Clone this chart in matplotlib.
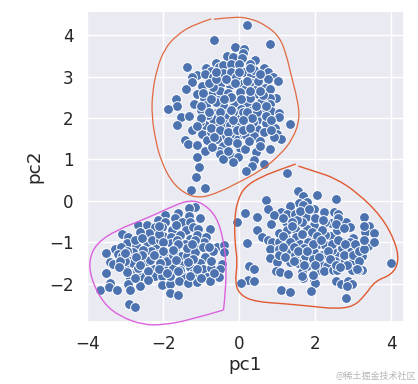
import matplotlib
matplotlib.use("Agg")
import matplotlib.pyplot as plt
from matplotlib.patches import PathPatch
from matplotlib.path import Path
import seaborn as sns

# points, one pair of lists per cluster
top_pc1 = [0.20, -0.67, 0.81, -0.11, 0.12, 0.11, -0.33, -0.15, 0.08, 0.43, -1.37, -0.87, -0.61, -0.54, -0.43, -0.21,
           0.01, 0.28, 0.66, -0.75, -1.12, -0.89, -0.42, -0.22, 0.10, 0.32, 0.39, 0.76, 0.89, 1.03, 0.76, -1.25,
           -1.25, -1.39, -0.97, -0.47, -0.23, 0.04, 0.41, 0.67, 0.82, -0.71, -0.51, -0.29, -0.05, 0.15, 0.50, -1.12,
           -0.92, -0.55, -1.67, -1.64, -1.86, -1.18, -0.14, 0.22, 0.57, 0.98, 0.81, 0.82, -0.99, -1.54, -1.33, -0.62,
           -0.35, 0.06, 0.34, 0.61, 0.84, 1.05, -0.07, -0.31, 0.25, 0.46, 0.71, 1.04, 1.33, -1.64, -1.23, -0.97,
           -0.82, -0.62, -0.38, -0.61, -0.23, 0.94, 0.46, 0.65, 0.04, -0.41, 1.01, 1.10, -0.16, 0.19, 0.39, 0.91,
           -1.42, -1.35, -1.10, -0.84, -0.59, -0.11, 0.56, -0.42, -0.90, -0.54, 0.02, 0.15, 0.44, 0.56, 0.82, -0.24,
           -0.51, -1.11, -0.02, -0.42, -0.17, 0.39, 0.34, 0.65, -1.05, 0.18, -1.14, -1.26, -0.89, -0.68, -0.51, -0.86,
           -0.25, 0.28, 0.11, -0.16, 0.46, -0.68, -0.42, 0.02, 0.28, -0.33, -0.07, -0.68, -0.60, -0.82, 0.19, -0.07,
           0.37, 0.63, -0.25, -0.73, -0.90, -1.04,
           -0.95, -0.80, -0.60, -0.35, -0.10, 0.20, 0.50, 0.55, 0.30, 0.05, -0.20, -0.40, -0.75, -1.00, -0.80, -0.50,
           -0.20, 0.20, 0.45, 0.70, 0.70, 0.35, 0.10, -0.15, -0.50, -0.75, -0.50, -0.30, -0.05, 0.10, 0.30, -0.65,
           -0.30, -0.05, 0.25, -0.70, -0.30, 0.30, 0.00, -0.60, 0.55, -1.00, -1.10, 0.85, 0.85]
top_pc2 = [4.24, 3.88, 3.78, 3.72, 3.67, 3.57, 3.49, 3.47, 3.45, 3.41, 3.23, 3.20, 3.33, 3.24, 3.27, 3.29,
           3.29, 3.31, 3.21, 3.13, 3.04, 3.06, 3.08, 3.12, 3.12, 3.04, 3.15, 3.11, 3.00, 2.89, 2.95, 2.99,
           2.87, 2.71, 2.77, 2.85, 2.79, 2.81, 2.76, 2.72, 2.69, 2.59, 2.66, 2.61, 2.49, 2.69, 2.58, 2.57,
           2.48, 2.43, 2.45, 2.30, 2.21, 2.33, 2.35, 2.33, 2.38, 2.47, 2.47, 2.33, 2.19, 2.03, 2.04, 2.12,
           2.23, 2.22, 2.20, 2.19, 2.16, 2.12, 2.00, 2.02, 1.98, 1.94, 1.89, 2.02, 1.86, 1.83, 1.70, 1.61,
           1.82, 1.82, 1.85, 1.68, 1.84, 1.77, 1.74, 1.66, 1.62, 1.58, 1.61, 1.49, 1.68, 1.58, 1.57, 1.54,
           1.47, 1.38, 1.35, 1.47, 1.49, 1.52, 1.45, 1.33, 1.20, 1.20, 1.27, 1.26, 1.18, 1.32, 1.25, 1.10,
           1.12, 1.07, 1.05, 1.00, 0.93, 0.98, 0.85, 0.89, 0.83, 0.71, 0.58, 0.27, 0.30, 2.75, 2.31, 2.31,
           2.47, 2.47, 2.14, 2.14, 2.14, 1.98, 2.31, 2.63, 2.87, 2.91, 2.99, 2.99, 2.39, 2.06, 1.82, 1.82,
           1.90, 2.55, 1.62, 1.66, 1.82, 1.90,
           2.60, 2.85, 2.95, 2.95, 2.85, 2.90, 2.90, 2.65, 2.65, 2.45, 2.50, 2.45, 2.45, 2.30, 2.15, 2.15,
           2.20, 2.15, 2.30, 2.30, 2.05, 2.00, 1.95, 1.95, 1.95, 1.75, 1.70, 1.65, 1.70, 1.70, 1.75, 1.55,
           1.45, 1.40, 1.45, 1.30, 1.20, 3.20, 3.10, 3.10, 3.05, 2.00, 1.80, 1.95, 1.70]

left_pc1 = [-1.15, -1.32, -1.60, -1.94, -1.33, -1.02, -2.14, -1.69, -1.51, -1.29, -2.67, -2.41, -1.96, -2.21, -2.04,
            -1.77, -1.39, -1.20, -1.07, -0.76, -3.07, -2.92, -2.36, -1.99, -1.80, -1.55, -1.29, -1.10, -0.86, -0.92,
            -2.96, -2.71, -2.43, -2.18, -1.80, -1.43, -1.11, -0.59, -0.39, -3.26, -3.11, -3.51, -3.18, -2.32, -1.66,
            -0.69, -0.39, -3.07, -2.89, -2.54, -2.13, -1.89, -1.53, -1.36, -0.89, -3.39, -3.31, -2.96, -2.78, -2.43,
            -1.17, -1.03, -0.46, -2.82, -2.25, -1.95, -1.75, -1.48, -1.29, -0.96, -0.75, -0.49, -3.51, -2.87, -2.58,
            -2.21, -2.02, -1.51, -0.85, -0.53, -3.39, -2.93, -2.61, -2.04, -1.83, -1.59, -1.34, -1.10, -0.77, -3.67,
            -3.41, -3.20, -2.87, -1.81, -1.62, -2.89, -2.73, -2.69, -3.00, -2.30, -2.08, -1.64, -1.90, -2.52, -1.38,
            -1.16, -1.73, -2.34, -1.55, -1.20, -2.08, -2.78, -3.13, -2.65, -1.82,
            -2.60, -2.10, -1.65, -1.15, -2.75, -2.55, -2.00, -1.60, -1.25, -0.95, -2.95, -2.55, -2.00, -1.75, -1.20,
            -0.80, -3.00, -2.70, -2.25, -1.65, -1.35, -0.75, -2.60, -2.10, -1.60, -1.10, -2.75, -2.40, -1.90, -1.30,
            -1.00, -2.40, -0.65, -2.95, -3.15, -2.10]
left_pc2 = [-0.15, -0.18, -0.30, -0.35, -0.36, -0.41, -0.46, -0.42, -0.50, -0.50, -0.59, -0.58, -0.51, -0.62, -0.63,
            -0.70, -0.69, -0.63, -0.67, -0.67, -0.80, -0.88, -0.77, -0.84, -0.86, -0.82, -0.92, -0.82, -0.86, -0.98,
            -1.02, -1.07, -1.00, -1.10, -1.02, -1.05, -1.08, -1.11, -1.06, -1.16, -1.12, -1.25, -1.28, -1.20, -1.12,
            -1.20, -1.24, -1.33, -1.33, -1.39, -1.29, -1.32, -1.32, -1.34, -1.35, -1.48, -1.53, -1.57, -1.50, -1.46,
            -1.48, -1.50, -1.52, -1.73, -1.65, -1.60, -1.62, -1.55, -1.60, -1.63, -1.62, -1.63, -1.73, -1.86, -1.81,
            -1.82, -1.82, -1.80, -1.84, -1.83, -1.98, -2.00, -2.04, -2.03, -2.00, -1.94, -1.99, -1.96, -1.93, -2.14,
            -2.08, -2.14, -2.16, -2.21, -2.26, -2.49, -2.57, -1.70, -1.46, -0.94, -0.94, -0.94, -1.46, -1.18, -1.14,
            -1.22, -1.30, -1.42, -1.66, -1.74, -1.50, -1.22, -1.46, -1.62, -1.82,
            -0.75, -0.80, -0.58, -0.95, -0.95, -0.90, -1.00, -1.05, -1.05, -1.10, -1.20, -1.30, -1.20, -1.18, -1.40,
            -1.10, -1.25, -1.35, -1.30, -1.42, -1.48, -1.45, -1.55, -1.65, -1.70, -1.65, -1.85, -1.70, -1.75, -1.80,
            -1.85, -1.90, -1.75, -1.72, -1.60, -0.60]

right_pc1 = [1.27, 1.54, 1.69, 2.06, 2.55, 0.71, 1.58, 1.78, 1.68, 1.34, 0.75, 1.97, 1.09, 2.23, 2.49, 0.16, 0.48,
             0.91, 1.27, 1.46, 1.76, 2.61, 3.30, -0.06, 0.83, 1.24, 1.98, 2.41, 2.61, 2.81, 2.92, 3.41, 0.48, 1.05,
             1.47, 1.78, 2.25, 3.31, 3.56, 0.60, 1.23, 1.49, 1.93, 2.42, 2.57, 3.01, 0.20, 0.77, 0.86, 1.04, 1.61,
             1.82, 2.08, 2.26, 2.70, 3.19, 3.40, 3.56, 0.82, 1.05, 1.32, 1.72, 1.96, 2.19, 2.59, 2.89, 3.23, 0.82,
             0.99, 1.35, 1.56, 1.80, 2.13, 2.31, 2.73, 3.01, 3.99, 0.27, 0.40, 0.96, 1.08, 1.28, 1.65, 2.03, 2.24,
             2.46, 2.70, 3.23, 1.69, 0.23, 0.38, 0.05, 1.98, 2.00, 2.55, 2.67, 2.86, 2.96, 2.84, 1.10, 1.33, 1.89,
             2.82, 1.47, 1.74, 2.44, 2.70, 2.92, 3.10, 2.26, 1.65, 1.91, 1.25, 1.04, 2.53, 2.96, 3.14, 1.52, 2.18,
             2.57,
             1.15, 1.40, 1.60, 1.85, 2.00, 2.20, 2.60, 1.40, 1.65, 2.05, 2.55, 2.75, 1.15, 1.35, 1.45, 1.95, 2.15,
             2.45, 2.60, 2.80, 3.05, 1.15, 1.55, 1.80, 2.35, 2.75, 3.00, 3.15, 1.20, 1.45, 1.95, 2.10, 2.40, 2.85,
             3.15, 3.30, 3.30, 1.70, 2.00, 2.55, 2.65, 3.10, 1.65, 1.95, 3.30]
right_pc2 = [0.67, 0.24, 0.13, 0.14, 0.04, 0.02, -0.06, -0.02, -0.11, -0.13, -0.20, -0.19, -0.26, -0.27, -0.26, -0.28,
             -0.38, -0.35, -0.32, -0.32, -0.39, -0.32, -0.39, -0.50, -0.56, -0.52, -0.58, -0.53, -0.52, -0.50, -0.63,
             -0.61, -0.71, -0.78, -0.67, -0.67, -0.50, -0.76, -0.77, -0.87, -0.90, -0.86, -0.86, -0.84, -0.70, -0.90,
             -1.02, -0.94, -1.00, -0.98, -1.03, -1.00, -1.03, -1.06, -1.00, -1.08, -1.08, -1.00, -1.17, -1.16, -1.20,
             -1.14, -1.24, -1.30, -1.26, -1.21, -1.34, -1.37, -1.47, -1.48, -1.50, -1.57, -1.51, -1.56, -1.58, -1.45,
             -1.49, -1.56, -1.64, -1.68, -1.72, -1.76, -1.71, -1.70, -1.69, -1.66, -1.46, -1.66, -1.86, -1.90, -1.93,
             -1.98, -1.90, -1.98, -1.94, -2.00, -1.94, -2.00, -2.04, -2.14, -2.20, -2.17, -2.33, -1.30, -1.34, -1.18,
             -1.14, -0.98, -1.22, -0.82, -0.50, -0.74, -0.70, -1.30, -1.46, -1.66, -1.66, -0.46, -0.70, -1.66,
             -0.40, -0.50, -0.25, -0.20, -0.40, -0.45, -0.40, -0.60, -0.80, -0.85, -0.55, -0.65, -0.85, -1.00, -1.10,
             -1.05, -0.95, -1.05, -0.95, -1.05, -1.05, -1.10, -1.20, -1.20, -1.20, -1.30, -1.30, -1.45, -1.35, -1.45,
             -1.40, -1.35, -1.40, -1.55, -1.20, -1.15, -0.95, -1.55, -1.55, -1.55, -1.60, -1.65, -1.80, -1.78, -0.60]

# hand drawn outlines round the clusters
outline_top_x = [-0.73, -1.21, -1.65, -1.96, -2.16, -2.28, -2.30, -2.19, -2.04, -1.78, -1.39, -0.99, -0.51, 0.02, 0.59,
                 1.07, 1.42, 1.60, 1.53, 1.38, 1.25, 1.07, 0.72, 0.28, -0.16, -0.66]
outline_top_y = [4.39, 4.25, 3.99, 3.67, 3.19, 2.63, 2.06, 1.42, 0.94, 0.46, 0.15, 0.07, 0.22, 0.46, 0.74,
                 1.10, 1.50, 1.98, 2.47, 2.99, 3.51, 3.95, 4.23, 4.41, 4.44, 4.38]
outline_right_x = [1.49, 1.12, 0.60, 0.16, -0.04, -0.12, -0.11, -0.04, -0.11, 0.03, 0.42, 1.21, 2.00, 2.53, 3.01,
                   3.32, 3.58, 4.02, 4.21, 4.11, 3.75, 3.14, 2.53, 2.00, 1.56]
outline_right_y = [0.89, 0.77, 0.59, 0.35, 0.02, -0.42, -1.02, -1.46, -1.98, -2.27, -2.43, -2.48, -2.55, -2.60, -2.55,
                   -2.27, -1.93, -1.78, -1.46, -0.98, -0.38, 0.18, 0.55, 0.71, 0.84]
outline_left_x = [-0.41, -0.35, -0.34, -0.41, -0.59, -0.94, -1.29, -1.68, -2.43, -3.22, -3.75, -3.95, -3.89, -3.57,
                  -3.13, -2.52, -1.99, -1.29, -0.41]
outline_left_y = [-2.63, -2.14, -1.50, -0.94, -0.38, -0.06, 0.02, -0.10, -0.42, -0.70, -1.02, -1.42, -1.90, -2.47,
                  -2.79, -2.99, -2.99, -2.87, -2.63]

x_ticks = [-4, -2, 0, 2, 4]
y_ticks = [-2, -1, 0, 1, 2, 3, 4]


def draw_outline(ax, xs, ys, color, lw):
    # quadratic bezier path, the listed points are the control points
    verts = [(xs[0], ys[0])]
    codes = [Path.MOVETO]
    for i in range(1, len(xs) - 1):
        end_x = xs[i + 1] if i == len(xs) - 2 else (xs[i] + xs[i + 1]) / 2
        end_y = ys[i + 1] if i == len(xs) - 2 else (ys[i] + ys[i + 1]) / 2
        verts += [(xs[i], ys[i]), (end_x, end_y)]
        codes += [Path.CURVE3, Path.CURVE3]
    ax.add_patch(PathPatch(Path(verts, codes), fill=False, edgecolor=color, lw=lw, zorder=4, clip_on=False))


sns.set_theme(style="darkgrid", font_scale=1.1)
plt.rcParams['font.family'] = ['DejaVu Sans']

fig = plt.figure(figsize=(4.18, 3.84), dpi=100)
ax = fig.add_axes([86.7 / 418, 1 - 322 / 384, (404 - 86.7) / 418, (322 - 11) / 384])

pc1 = top_pc1 + left_pc1 + right_pc1
pc2 = top_pc2 + left_pc2 + right_pc2
ax.scatter(pc1, pc2, s=50, color="#4c72b0", edgecolors="white", linewidths=0.7, zorder=3)

draw_outline(ax, outline_top_x, outline_top_y, "#e0693f", 0.9)
draw_outline(ax, outline_right_x, outline_right_y, "#e0592f", 1.0)
draw_outline(ax, outline_left_x, outline_left_y, "#dc62dc", 1.0)

ax.set_xlim(-4.01, 4.34)
ax.set_ylim(-2.92, 4.58)
ax.set_xticks(x_ticks)
ax.set_yticks(y_ticks)
ax.set_xlabel("pc1", labelpad=2)
ax.set_ylabel("pc2")

fig.text(0.995, 0.008, "@稀土掘金技术社区", ha="right", va="bottom", fontsize=6.5, color="#b5b5b5",
         family=["Noto Sans CJK SC", "DejaVu Sans"])

fig.savefig("out.png", dpi=100)
